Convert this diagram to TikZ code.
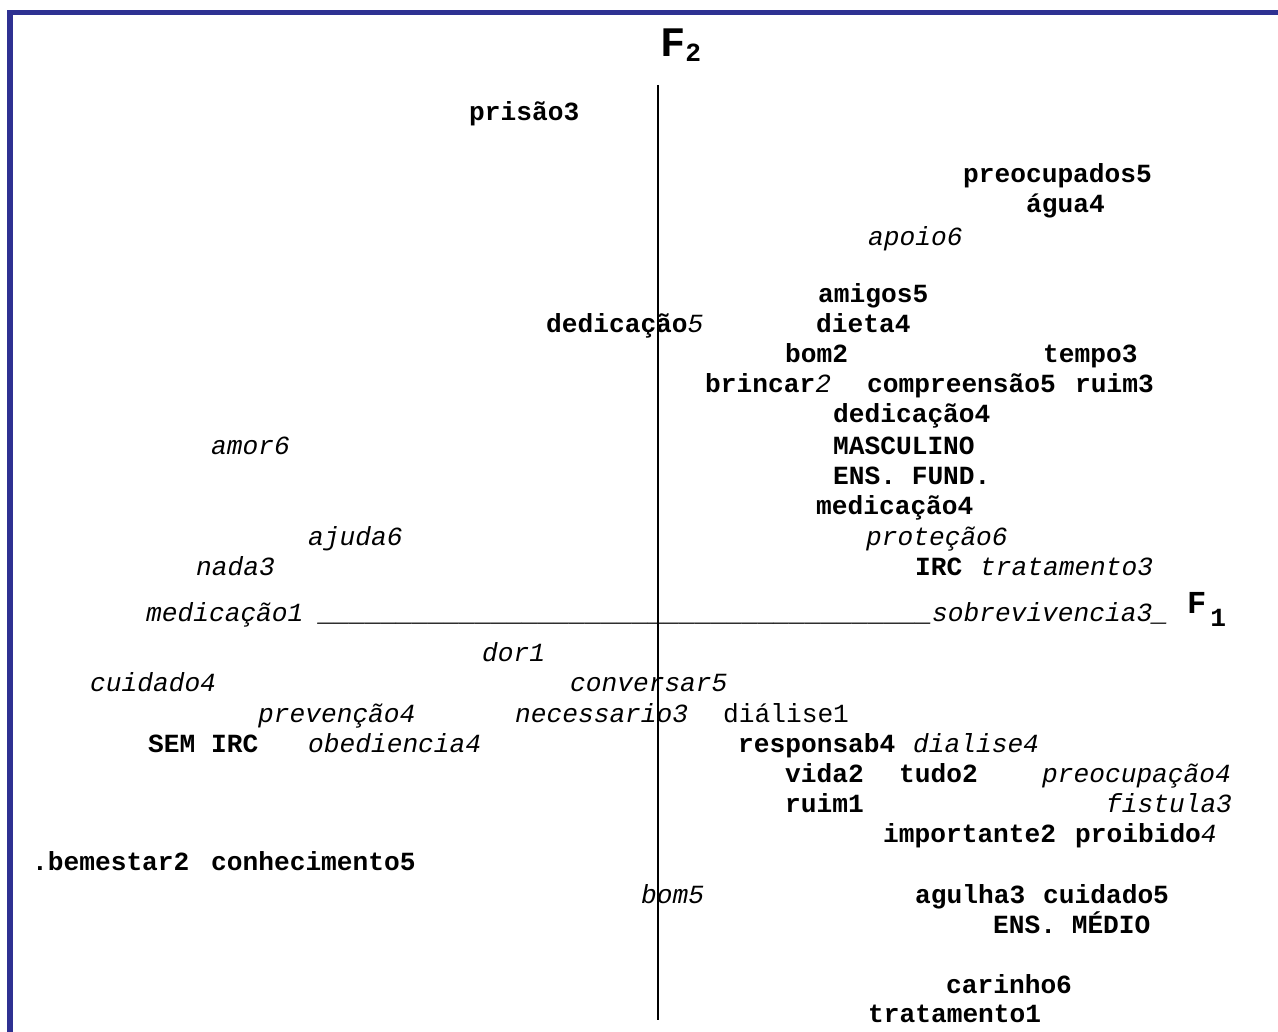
\documentclass[tikz,border=0pt]{standalone}
\usepackage{fontspec}
\usepackage{tikz}
\newfontfamily\cour{Liberation Mono}
\definecolor{moldura}{RGB}{46,49,146}
\newcommand\traco{\_\_\_\_\_\_\_\_\_\_\_\_\_}
\newcommand\negr[1]{{\bfseries\upshape #1}}
\tikzset{
  rot/.style={anchor=base west,inner sep=0pt,font=\cour\fontsize{26.2}{30}\selectfont},
  rotb/.style={rot,font=\cour\fontsize{26.2}{30}\selectfont\bfseries},
  roti/.style={rot,font=\cour\fontsize{26.2}{30}\selectfont\itshape},
}
\begin{document}
\begin{tikzpicture}[x=1pt,y=-1pt]
                \useasboundingbox (0,0) rectangle (1278,1032);
                \draw[moldura,line width=5.5pt] (10,1032) -- (10,12.3) -- (1278,12.3); %moldura

                \coordinate (topo) at (658,85); %eixo F2
                \coordinate (base) at (658,1020);
                \draw[line width=1.3pt] (topo) -- (base);
                \node[rotb,font=\cour\fontsize{42}{44}\selectfont\bfseries] (F2) at (660,56.7)
                     {F\raisebox{-5pt}{\fontsize{26.2}{30}\selectfont 2}}; %F2
                \node[roti] (eixoF1) at (146,621)
                     {medicação1 \traco\traco\traco sobrevivencia3\_}; %eixo F1
                \node[rotb,font=\cour\fontsize{32}{34}\selectfont\bfseries] (F1) at (1187,613.3)
                     {F\kern4pt\raisebox{-13.4pt}{\fontsize{26.2}{30}\selectfont 1}}; %F1

                % quadrante superior
                \node[rotb] (prisao3) at (469,121) {prisão3};
                \node[rotb] (preocupados5) at (963,183) {preocupados5};
                \node[rotb] (agua4) at (1026,213) {água4};
                \node[roti] (apoio6) at (868,246) {apoio6};
                \node[rotb] (amigos5) at (818,303) {amigos5};
                \node[roti] (dedicacao5) at (546,333) {\negr{dedicação}5};
                \node[rotb] (dieta4) at (816,333) {dieta4};
                \node[rotb] (bom2) at (785,363) {bom2};
                \node[rotb] (tempo3) at (1043,363) {tempo3};
                \node[roti] (brincar2) at (705,392) {\negr{brincar}2};
                \node[rotb] (compreensao5) at (867,392) {compreensão5};
                \node[rotb] (ruim3) at (1075,392) {ruim3};
                \node[rotb] (dedicacao4) at (833,423) {dedicação4};
                \node[roti] (amor6) at (211,454) {amor6};
                \node[rotb] (masculino) at (833,454) {MASCULINO};
                \node[rotb] (ensfund) at (833,484) {ENS. FUND.};
                \node[rotb] (medicacao4) at (816,514) {medicação4};
                \node[roti] (ajuda6) at (308,545) {ajuda6};
                \node[roti] (protecao6) at (866,545) {proteção6};
                \node[roti] (nada3) at (196,575) {nada3};
                \node[rotb] (irc) at (915,575) {IRC};
                \node[roti] (tratamento3) at (980,575) {tratamento3};

                % quadrante inferior
                \node[roti] (dor1) at (482,661) {dor1};
                \node[roti] (cuidado4) at (90,691) {cuidado4};
                \node[roti] (conversar5) at (570,691) {conversar5};
                \node[roti] (prevencao4) at (258,722) {prevenção4};
                \node[roti] (necessario3) at (515,722) {necessario3};
                \node[rot] (dialise1) at (723,722) {diálise1};
                \node[rotb] (semirc) at (148,752) {SEM IRC};
                \node[roti] (obediencia4) at (308,752) {obediencia4};
                \node[rotb] (responsab4) at (738,752) {responsab4};
                \node[roti] (dialise4) at (913,752) {dialise4};
                \node[rotb] (vida2) at (785,782) {vida2};
                \node[rotb] (tudo2) at (899,782) {tudo2};
                \node[roti] (preocupacao4) at (1042,782) {preocupação4};
                \node[rotb] (ruim1) at (785,812) {ruim1};
                \node[roti] (fistula3) at (1106,812) {fistula3};
                \node[rotb] (importante2) at (883,842) {importante2};
                \node[roti] (proibido4) at (1075,842) {\negr{proibido}4};
                \node[rotb] (bemestar2) at (32,870) {.bemestar2};
                \node[rotb] (conhecimento5) at (211,870) {conhecimento5};
                \node[roti] (bom5) at (641,903) {bom5};
                \node[rotb] (agulha3) at (915,903) {agulha3};
                \node[rotb] (cuidado5) at (1043,903) {cuidado5};
                \node[rotb] (ensmedio) at (993,933) {ENS. MÉDIO};
                \node[rotb] (carinho6) at (946,993) {carinho6};
                \node[rotb] (tratamento1) at (868,1022) {tratamento1};

\end{tikzpicture}
\end{document}
